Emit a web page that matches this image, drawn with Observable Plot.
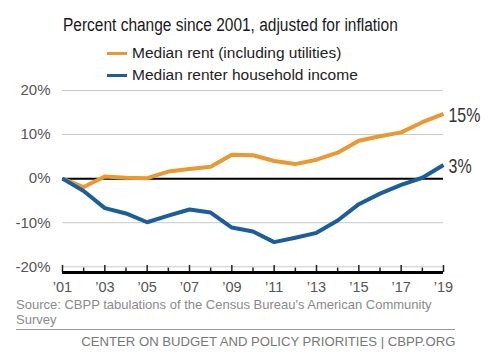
<!DOCTYPE html>
<html><head><meta charset="utf-8">
<script src="https://cdn.jsdelivr.net/npm/d3@7"></script>
<script src="https://cdn.jsdelivr.net/npm/@observablehq/plot@0.6"></script>
<style>
body{margin:0;background:#fff;font-family:"Liberation Sans",Arial,sans-serif;}
#wrap{position:relative;width:500px;height:364px;overflow:hidden;background:#fff}
.title{position:absolute;left:63px;top:15px;font-size:18px;line-height:20px;color:#1a1a1a;white-space:nowrap;transform:scaleX(0.86);transform-origin:left center}
.leg{position:absolute;left:107px;font-size:15.5px;line-height:18px;color:#222;display:flex;align-items:center;white-space:nowrap}
.sw{width:20px;height:3px;margin-right:5px}
#chart{position:absolute;left:0;top:82px}
.src{position:absolute;left:16px;top:296.5px;font-size:13px;color:#8a8a8a;line-height:15px;width:440px}
.hr{position:absolute;left:16px;top:329px;width:439px;height:1px;background:#9a9a9a}
.foot{position:absolute;right:45px;top:333.5px;font-size:13px;line-height:15px;color:#777;white-space:nowrap;transform:scaleX(1.01);transform-origin:right center}
</style></head>
<body>
<div id="wrap">
  <div class="title" id="title"></div>
  <div id="legend"></div>
  <div id="chart"></div>
  <div class="src" id="src"></div>
  <div class="hr"></div>
  <div class="foot" id="foot"></div>
</div>
<script>
const titleText = "Percent change since 2001, adjusted for inflation";
const sourceText = "Source: CBPP tabulations of the Census Bureau's American Community Survey";
const footText = "CENTER ON BUDGET AND POLICY PRIORITIES | CBPP.ORG";

const years = [2001,2002,2003,2004,2005,2006,2007,2008,2009,2010,2011,2012,2013,2014,2015,2016,2017,2018,2019];
const rent =   [0,-1.9,0.5,0.2,0.1,1.6,2.2,2.7,5.4,5.3,4.0,3.3,4.3,5.9,8.6,9.6,10.5,12.8,14.7];
const income = [0,-2.8,-6.7,-7.9,-9.9,-8.4,-7.0,-7.7,-11.1,-12.0,-14.4,-13.4,-12.3,-9.5,-5.8,-3.4,-1.4,0.2,3.1];
const seriesNames = ["Median rent (including utilities)", "Median renter household income"];
const endLabels = ["15%", "3%"];
const colors = ["#EA9932", "#1B5E9B"];
const yTicks = [-20, -10, 0, 10, 20];
const gridTicks = [-20, -10, 10, 20];
const xTicks = [2001,2003,2005,2007,2009,2011,2013,2015,2017,2019];
const yBottom = -21.3;

document.getElementById("title").textContent = titleText;
document.getElementById("src").textContent = sourceText;
document.getElementById("foot").textContent = footText;

const legend = document.getElementById("legend");
seriesNames.forEach((name, i) => {
  const row = document.createElement("div");
  row.className = "leg";
  row.style.top = (44 + i * 22) + "px";
  const sw = document.createElement("span");
  sw.className = "sw";
  sw.style.background = colors[i];
  const t = document.createElement("span");
  t.textContent = name;
  row.appendChild(sw); row.appendChild(t);
  legend.appendChild(row);
});

const seriesValues = [rent, income];
const rows = [];
seriesValues.forEach((vals, si) => vals.forEach((v, i) => rows.push({series: seriesNames[si], year: years[i], value: v})));
const lastRows = seriesValues.map((vals, si) => ({series: seriesNames[si], year: years[years.length-1], value: vals[vals.length-1], label: endLabels[si]}));

const chart = Plot.plot({
  width: 500,
  height: 214,
  marginTop: 8,
  marginBottom: 24,
  marginLeft: 62,
  marginRight: 57,
  style: {fontFamily: '"Liberation Sans", Arial, sans-serif', background: "#fff"},
  x: {domain: [2001, 2019], label: null},
  y: {domain: [yBottom, 20], label: null},
  color: {domain: seriesNames, range: colors},
  marks: [
    Plot.gridY(gridTicks, {stroke: "#c9c9c9", strokeOpacity: 1, strokeWidth: 1}),
    Plot.axisY({ticks: yTicks, tickFormat: d => d + "%", tickSize: 0, tickPadding: 12, fontSize: 15, color: "#555", label: null}),
    Plot.axisX({ticks: xTicks, tickFormat: d => "\u2019" + String(d).slice(2), tickSize: 0, tickPadding: 9, fontSize: 14.5, color: "#555", label: null}),
    Plot.ruleX(years, {x: d => d, y1: yBottom, y2: d => (d % 2 ? -19.7 : -20.3), stroke: "#222", strokeWidth: 1.5}),
    Plot.ruleY([yBottom], {stroke: "#000", strokeWidth: 3}),
    Plot.ruleY([0], {stroke: "#000", strokeWidth: 2}),
    Plot.line(rows, {x: "year", y: "value", z: "series", stroke: "series", strokeWidth: 4, strokeLinejoin: "round", strokeLinecap: "butt"}),
    Plot.text(lastRows, {x: "year", y: "value", text: "label", dx: 5, dy: 1, textAnchor: "start", fontSize: 21, fill: "#333", className: "endlab"})
  ]
});
document.getElementById("chart").appendChild(chart);
// condense the end labels to match the narrow typeface of the original
d3.select(chart).selectAll(".endlab text").each(function() {
  const w = this.getComputedTextLength();
  this.setAttribute("textLength", (w * 0.76).toFixed(1));
  this.setAttribute("lengthAdjust", "spacingAndGlyphs");
});
</script>
</body></html>
